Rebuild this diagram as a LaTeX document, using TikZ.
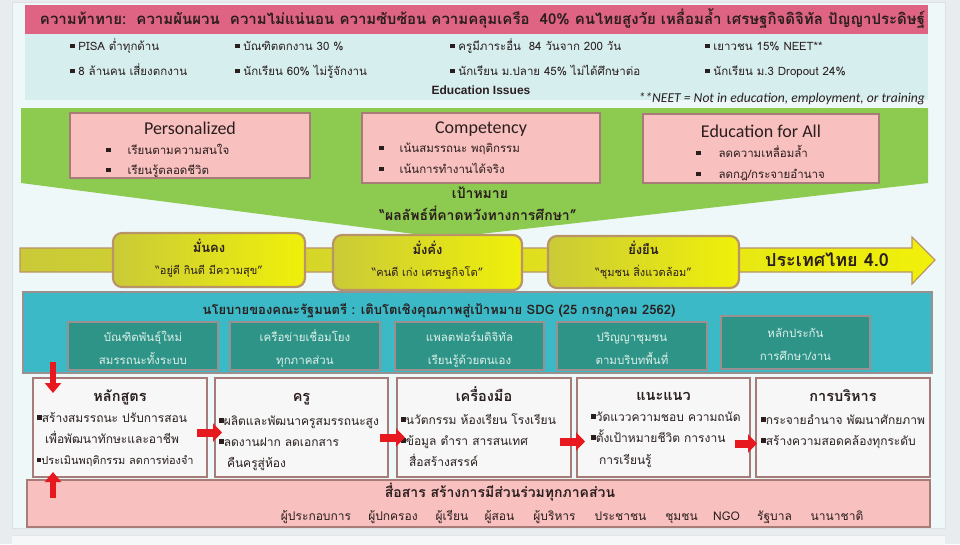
\documentclass[tikz,border=0pt]{standalone}
\usepackage{fontspec}
\setmainfont{Liberation Sans}
\newfontfamily\thai[Script=Thai]{Loma}
\newfontfamily\calib{Carlito}
\usetikzlibrary{arrows.meta,calc}
\definecolor{bgout}{HTML}{E8ECEE}
\definecolor{bgpanel}{HTML}{EFF8F9}
\definecolor{banner}{HTML}{DF6383}
\definecolor{issue}{HTML}{D6EEEE}
\definecolor{funnel}{HTML}{8DCB50}
\definecolor{pinkbox}{HTML}{F8C0BE}
\definecolor{pinkedge}{HTML}{A67B78}
\definecolor{ylw}{HTML}{F0F00A}
\definecolor{ylwdark}{HTML}{CACA38}
\definecolor{ylwedge}{HTML}{B99468}
\definecolor{tealpan}{HTML}{3BB9C6}
\definecolor{tealbox}{HTML}{2E9487}
\definecolor{tealedge}{HTML}{9A9090}
\definecolor{tealtext}{HTML}{DDEFEA}
\definecolor{whitebox}{HTML}{F7F7F7}
\definecolor{arrred}{HTML}{E8191E}
\definecolor{ink}{HTML}{2A1E1E}
\newcommand\bsq{\raisebox{0.15em}{\rule{0.4em}{0.4em}}}
\tikzset{
  every node/.style={inner sep=0pt, outer sep=0pt, text=ink},
  pbox/.style={draw=pinkedge, fill=pinkbox, line width=2pt, anchor=north west},
  ybox/.style={draw=ylwedge, line width=2.2pt, rounded corners=9pt, left color=ylwdark, right color=ylw, anchor=north west},
  tbox/.style={draw=tealedge, fill=tealbox, line width=1.6pt, anchor=north west},
  wbox/.style={draw=pinkedge, fill=whitebox, line width=2.2pt, anchor=north west},
  issuetxt/.style={font=\thai\fontsize{11.5}{13}\selectfont, anchor=base west},
  ptxt/.style={font=\thai\fontsize{11.5}{13}\selectfont, anchor=base west},
  ptitle/.style={font=\calib\fontsize{18}{20}\selectfont, anchor=base},
  ytitle/.style={font=\thai\bfseries\fontsize{13}{15}\selectfont, anchor=base},
  yquote/.style={font=\thai\fontsize{11}{13}\selectfont, anchor=base},
  ttxt/.style={font=\thai\fontsize{11.5}{13}\selectfont, text=tealtext, anchor=base},
  wtitle/.style={font=\thai\bfseries\fontsize{14.5}{16}\selectfont, anchor=base},
  wtxt/.style={font=\thai\fontsize{12}{14}\selectfont, anchor=base west},
  ntxt/.style={font=\thai\fontsize{12}{14}\selectfont, anchor=base},
  redarr/.style={draw=arrred, line width=8pt, -{Triangle[length=9pt,width=18pt]}},
  redvarr/.style={draw=arrred, line width=6pt, -{Triangle[length=10pt,width=16pt]}},
}
\begin{document}
\begin{tikzpicture}[x=1pt,y=-1pt]
\useasboundingbox (0,0) rectangle (960,544);
% backgrounds
\fill[bgout] (0,0) rectangle (960,544);
\fill[bgpanel] (12,2) rectangle (945,528);
\draw[black!12, line width=0.6pt] (12,2) rectangle (945,528);
\fill[white!60!bgout] (12,535) rectangle (945,546);
\draw[black!10] (12,535) -- (945,535);

% banner
\node[fill=banner, minimum width=903pt, minimum height=29pt, anchor=north west] (banner) at (25,5) {};
\node[anchor=base, font=\thai\bfseries\fontsize{15}{17}\selectfont] (bannertxt) at (482.5,24.5)
  {\resizebox{885pt}{!}{ความท้าทาย:\ \ ความผันผวน\ \ ความไม่แน่นอน ความซับซ้อน ความคลุมเครือ\ \ 40\% คนไทยสูงวัย เหลื่อมล้ำ เศรษฐกิจดิจิทัล ปัญญาประดิษฐ์}};

% issues
\node[fill=issue, minimum width=903pt, minimum height=66pt, anchor=north west] (issues) at (25,34) {};
\node[issuetxt] (i11) at (70,50) {\bsq\ PISA ต่ำทุกด้าน};
\node[issuetxt] (i12) at (235,50) {\bsq\ บัณฑิตตกงาน 30 \%};
\node[issuetxt] (i13) at (450,50) {\bsq\ ครูมีภาระอื่น\ \ 84 วันจาก 200 วัน};
\node[issuetxt] (i14) at (705,50) {\bsq\ เยาวชน 15\% NEET**};
\node[issuetxt] (i21) at (70,75) {\bsq\ 8 ล้านคน เสี่ยงตกงาน};
\node[issuetxt] (i22) at (235,75) {\bsq\ นักเรียน 60\% ไม่รู้จักงาน};
\node[issuetxt] (i23) at (450,75) {\bsq\ นักเรียน ม.ปลาย 45\% ไม่ได้ศึกษาต่อ};
\node[issuetxt] (i24) at (705,75) {\bsq\ นักเรียน ม.3 Dropout 24\%};
\node[anchor=base, font=\bfseries\fontsize{12}{14}\selectfont] (edissues) at (481,94.5) {Education Issues};
\node[font=\calib\itshape\fontsize{13.6}{15}\selectfont, anchor=base east] (neet) at (925,102.5) {**NEET = Not in education, employment, or training};

% green funnel
\fill[funnel] (21,108) -- (928,108) -- (928,183) -- (445,238) -- (21,183) -- cycle;

% pink goal boxes
\node[pbox, minimum width=240pt, minimum height=65pt] (p1) at (70,113) {};
\node[ptitle] (p1t) at (190,134) {Personalized};
\node[ptxt] (p1a) at (106,154) {\bsq\hspace{17pt}เรียนตามความสนใจ};
\node[ptxt] (p1b) at (106,174) {\bsq\hspace{17pt}เรียนรู้ตลอดชีวิต};

\node[pbox, minimum width=238pt, minimum height=70pt] (p2) at (362,113) {};
\node[ptitle] (p2t) at (481,133) {Competency};
\node[ptxt] (p2a) at (379,152) {\bsq\hspace{16pt}เน้นสมรรถนะ พฤติกรรม};
\node[ptxt] (p2b) at (379,173) {\bsq\hspace{16pt}เน้นการทำงานได้จริง};

\node[pbox, minimum width=236pt, minimum height=69pt] (p3) at (643,114) {};
\node[ptitle] (p3t) at (761,137) {Education for All};
\node[ptxt] (p3a) at (696,157) {\bsq\hspace{18pt}ลดความเหลื่อมล้ำ};
\node[ptxt] (p3b) at (696,178) {\bsq\hspace{18pt}ลดกฎ/กระจายอำนาจ};

\node[anchor=base, font=\thai\bfseries\fontsize{14}{16}\selectfont] (goal) at (480,198) {เป้าหมาย};
\node[anchor=base, font=\thai\bfseries\fontsize{14}{16}\selectfont] (goalq) at (478,220) {“ผลลัพธ์ที่คาดหวังทางการศึกษา”};

% yellow band arrow
\draw[ylwedge, line width=1.2pt, left color=ylwdark, right color=ylw]
  (20,248) -- (912,248) -- (912,237) -- (935,260) -- (912,284) -- (912,272) -- (20,272) -- cycle;
\node[ybox, minimum width=192pt, minimum height=54pt] (g1) at (113,233) {};
\node[ytitle] (g1t) at (209,252.5) {มั่นคง};
\node[yquote] (g1q) at (209,274) {“อยู่ดี กินดี มีความสุข”};
\node[ybox, minimum width=189pt, minimum height=55pt] (g2) at (333,235) {};
\node[ytitle] (g2t) at (427.5,254.5) {มั่งคั่ง};
\node[yquote] (g2q) at (427.5,276) {“คนดี เก่ง เศรษฐกิจโต”};
\node[ybox, minimum width=191pt, minimum height=52pt] (g3) at (548,236) {};
\node[ytitle] (g3t) at (643.5,254.5) {ยั่งยืน};
\node[yquote] (g3q) at (643.5,276) {“ชุมชน สิ่งแวดล้อม”};
\node[anchor=base, font=\thai\bfseries\fontsize{18}{20}\selectfont] (th40) at (827,266) {ประเทศไทย 4.0};

% policy panel
\node[draw=tealedge, fill=tealpan, line width=1.6pt, minimum width=909pt, minimum height=81pt, anchor=north west] (policy) at (23,292) {};
\node[anchor=base, font=\thai\bfseries\fontsize{13}{15}\selectfont] (policyt) at (439,314.5) {นโยบายของคณะรัฐมนตรี : เติบโตเชิงคุณภาพสู่เป้าหมาย SDG (25 กรกฎาคม 2562)};
\node[tbox, minimum width=150pt, minimum height=48pt] (t1) at (68,322) {};
\node[ttxt] (t1a) at (143,341) {บัณฑิตพันธุ์ใหม่};
\node[ttxt] (t1b) at (143,364) {สมรรถนะทั้งระบบ};
\node[tbox, minimum width=150pt, minimum height=48pt] (t2) at (230,322) {};
\node[ttxt] (t2a) at (305,341) {เครือข่ายเชื่อมโยง};
\node[ttxt] (t2b) at (305,364) {ทุกภาคส่วน};
\node[tbox, minimum width=149pt, minimum height=48pt] (t3) at (395,322) {};
\node[ttxt] (t3a) at (469.5,341) {แพลตฟอร์มดิจิทัล};
\node[ttxt] (t3b) at (469.5,364) {เรียนรู้ด้วยตนเอง};
\node[tbox, minimum width=150pt, minimum height=48pt] (t4) at (557,322) {};
\node[ttxt] (t4a) at (632,341) {ปริญญาชุมชน};
\node[ttxt] (t4b) at (632,364) {ตามบริบทพื้นที่};
\node[tbox, minimum width=149pt, minimum height=53pt] (t5) at (721,316) {};
\node[ttxt] (t5a) at (795.5,337) {หลักประกัน};
\node[ttxt] (t5b) at (795.5,360) {การศึกษา/งาน};

% bottom bar
\node[draw=pinkedge, fill=pinkbox, line width=1.6pt, minimum width=903pt, minimum height=47pt, anchor=north west] (bar) at (27,480) {};
\node[anchor=base, font=\thai\bfseries\fontsize{14}{16}\selectfont] (bart) at (500,497) {สื่อสาร สร้างการมีส่วนร่วมทุกภาคส่วน};
\node[ntxt] (n1) at (316,520) {ผู้ประกอบการ};
\node[ntxt] (n2) at (393,520) {ผู้ปกครอง};
\node[ntxt] (n3) at (452,520) {ผู้เรียน};
\node[ntxt] (n4) at (499.5,520) {ผู้สอน};
\node[ntxt] (n5) at (554.5,520) {ผู้บริหาร};
\node[ntxt] (n6) at (620.5,520) {ประชาชน};
\node[ntxt] (n7) at (681.5,520) {ชุมชน};
\node[ntxt] (n8) at (726.5,520) {NGO};
\node[ntxt] (n9) at (774.5,520) {รัฐบาล};
\node[ntxt] (n10) at (837,520) {นานาชาติ};

% white boxes
\node[wbox, minimum width=174pt, minimum height=99pt] (w1) at (33,378) {};
\node[wtitle] (w1t) at (120,401) {หลักสูตร};
\node[wtxt] (w1a) at (37,422) {\bsq สร้างสมรรถนะ ปรับการสอน};
\node[wtxt] (w1b) at (45,443) {เพื่อพัฒนาทักษะและอาชีพ};
\node[wtxt, font=\thai\fontsize{11}{13}\selectfont] (w1c) at (37,464) {\bsq ประเมินพฤติกรรม ลดการท่องจำ};

\node[wbox, minimum width=173pt, minimum height=99pt] (w2) at (215,378) {};
\node[wtitle] (w2t) at (301.5,401) {ครู};
\node[wtxt] (w2a) at (219,425) {\bsq ผลิตและพัฒนาครูสมรรถนะสูง};
\node[wtxt] (w2b) at (219,446) {\bsq ลดงานฝาก ลดเอกสาร};
\node[wtxt] (w2c) at (227,467) {คืนครูสู่ห้อง};

\node[wbox, minimum width=174pt, minimum height=99pt] (w3) at (397,378) {};
\node[wtitle] (w3t) at (484,401) {เครื่องมือ};
\node[wtxt] (w3a) at (401,424) {\bsq นวัตกรรม ห้องเรียน โรงเรียน};
\node[wtxt] (w3b) at (401,445) {\bsq ข้อมูล ตำรา สารสนเทศ};
\node[wtxt] (w3c) at (409,466) {สื่อสร้างสรรค์};

\node[wbox, minimum width=173pt, minimum height=99pt] (w4) at (577,378) {};
\node[wtitle] (w4t) at (663.5,400) {แนะแนว};
\node[wtxt] (w4a) at (591,421) {\bsq วัดแววความชอบ ความถนัด};
\node[wtxt] (w4b) at (591,442) {\bsq ตั้งเป้าหมายชีวิต การงาน};
\node[wtxt] (w4c) at (599,464) {การเรียนรู้};

\node[wbox, minimum width=174pt, minimum height=99pt] (w5) at (756,378) {};
\node[wtitle] (w5t) at (843,401) {การบริหาร};
\node[wtxt] (w5a) at (761,424) {\bsq กระจายอำนาจ พัฒนาศักยภาพ};
\node[wtxt] (w5b) at (761,445) {\bsq สร้างความสอดคล้องทุกระดับ};

% red arrows
\draw[redarr] ($(w1.east)+(-10,5)$) -- ($(w2.west)+(7,5)$);
\draw[redarr] ($(w2.east)+(-8,10)$) -- ($(w3.west)+(8,10)$);
\draw[redarr] ($(w3.east)+(-11,14)$) -- ($(w4.west)+(8,14)$);
\draw[redarr] ($(w4.east)+(-15,16)$) -- ($(w5.west)+(1,16)$);
\draw[redvarr] ($(w1.north west)+(20,-16)$) -- ($(w1.north west)+(20,15)$);
\draw[redvarr] ($(w1.south west)+(20,21)$) -- ($(w1.south west)+(20,-5)$);
\end{tikzpicture}
\end{document}
